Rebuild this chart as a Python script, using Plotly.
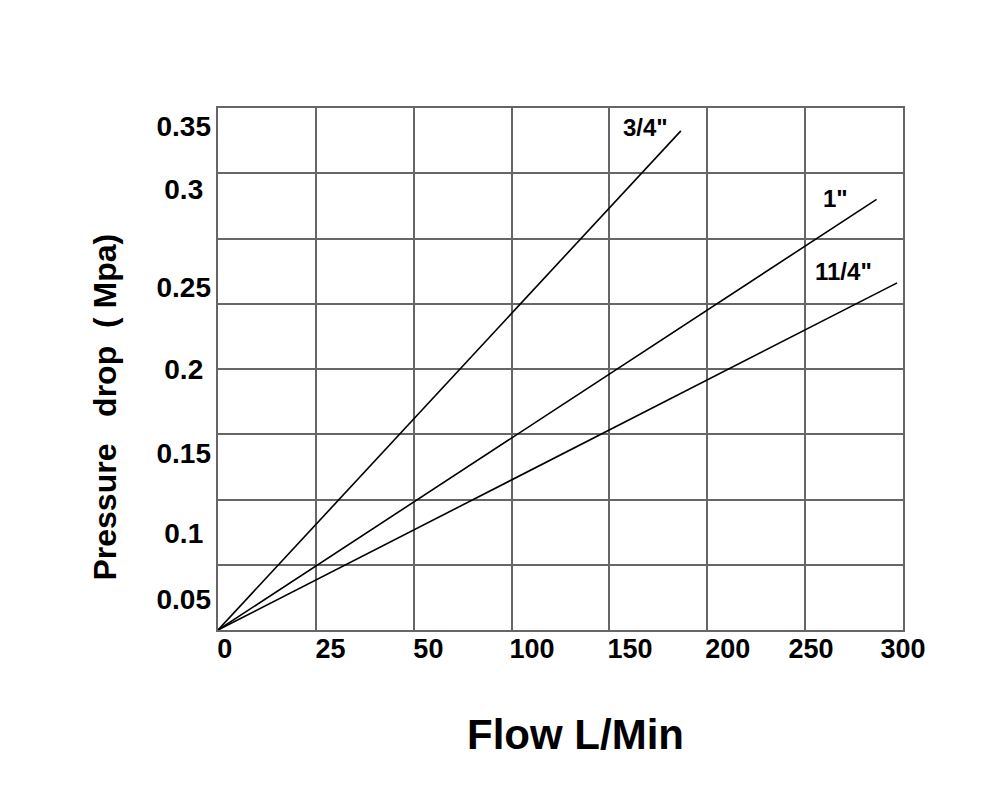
import plotly.graph_objects as go

# ---------------- data ----------------
# Tick labels as printed on the chart
x_tick_labels = ["0", "25", "50", "100", "150", "200", "250", "300"]
y_tick_labels = ["0.05", "0.1", "0.15", "0.2", "0.25", "0.3", "0.35"]

# Series: straight lines from origin; values in grid-cell units
# (x: 7 cells across, y: 8 cells up, as drawn on the chart)
series_names = ['3/4"', '1"', '11/4"']
x_34 = [0, 4.73]
y_34 = [0, 7.65]
x_1 = [0, 6.73]
y_1 = [0, 6.60]
x_114 = [0, 6.94]
y_114 = [0, 5.32]

# ---------------- layout / styling ----------------
X_RANGE = [0, 7]
Y_RANGE = [0, 8]
x_label_pos = [0.07, 1.15, 2.15, 3.21, 4.21, 5.21, 6.06, 7.0]
y_label_pos = [0.475, 1.49, 2.715, 3.99, 5.255, 6.75, 7.72]
label_pos = {'3/4"': (4.37, 7.70), '1"': (6.31, 6.62), '11/4"': (6.39, 5.50)}

FONT = "Liberation Sans, Arial, sans-serif"
GRID = "#666666"

fig = go.Figure()
for name, xs, ys in zip(series_names, [x_34, x_1, x_114], [y_34, y_1, y_114]):
    fig.add_trace(go.Scatter(x=xs, y=ys, mode="lines", name=name,
                             line=dict(color="black", width=1.6),
                             showlegend=False, hoverinfo="skip"))
    lx, ly = label_pos[name]
    fig.add_annotation(x=lx, y=ly, xref="x", yref="y", text=name, showarrow=False,
                       xanchor="center", yanchor="middle",
                       font=dict(family=FONT, size=24, color="black", weight="bold"))

# empty helper traces so the label-carrying overlay axes are drawn
fig.add_trace(go.Scatter(x=[None], y=[None], xaxis="x2", yaxis="y", mode="lines",
                         showlegend=False, hoverinfo="skip"))
fig.add_trace(go.Scatter(x=[None], y=[None], xaxis="x", yaxis="y2", mode="lines",
                         showlegend=False, hoverinfo="skip"))

pad = "\u00a0"
y_text = [t if len(t) == 4 else t + pad for t in y_tick_labels]

fig.update_layout(
    width=1000, height=800,
    margin=dict(l=210, r=105, t=100, b=178),
    paper_bgcolor="white", plot_bgcolor="white",
    font=dict(family=FONT, color="black"),
    xaxis=dict(range=X_RANGE, tick0=0, dtick=1, showgrid=True, gridcolor=GRID, gridwidth=2,
               showline=True, mirror=True, linecolor=GRID, linewidth=2,
               zeroline=False, showticklabels=False, ticks=""),
    yaxis=dict(range=Y_RANGE, tick0=0, dtick=1, showgrid=True, gridcolor=GRID, gridwidth=2,
               showline=True, mirror=True, linecolor=GRID, linewidth=2,
               zeroline=False, showticklabels=False, ticks=""),
    xaxis2=dict(overlaying="x", anchor="y", side="bottom", range=X_RANGE,
                tickmode="array", tickvals=x_label_pos, ticktext=x_tick_labels,
                showgrid=False, zeroline=False, showline=False, ticks="",
                tickfont=dict(family=FONT, size=27, color="black", weight="bold")),
    yaxis2=dict(overlaying="y", anchor="x", side="left", range=Y_RANGE,
                tickmode="array", tickvals=y_label_pos, ticktext=y_text,
                showgrid=False, zeroline=False, showline=False, ticks="",
                ticklabelstandoff=6,
                tickfont=dict(family=FONT, size=28, color="black", weight="bold")),
)

# Axis titles
fig.add_annotation(x=-0.165, y=0.428, xref="paper", yref="paper",
                   xanchor="center", yanchor="middle",
                   text="Pressure\u00a0\u00a0 drop\u00a0 ( Mpa)", textangle=-90, showarrow=False,
                   font=dict(family=FONT, size=32, color="black", weight="bold"))
fig.add_annotation(x=0.5215, y=-0.2007, xref="paper", yref="paper",
                   xanchor="center", yanchor="middle",
                   text="Flow L/Min", showarrow=False,
                   font=dict(family=FONT, size=42, color="black", weight="bold"))

fig.write_html("out.html")
